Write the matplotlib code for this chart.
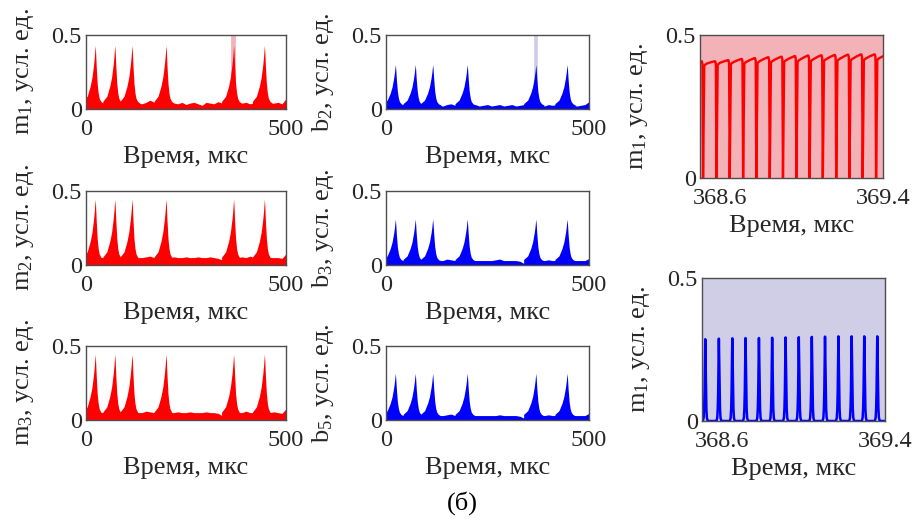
import numpy as np
import matplotlib
matplotlib.use('Agg')
import matplotlib.pyplot as plt

plt.rcParams['font.family'] = 'Liberation Serif'
plt.rcParams['mathtext.fontset'] = 'custom'
plt.rcParams['mathtext.rm'] = 'Liberation Serif'
plt.rcParams['mathtext.default'] = 'regular'

# ---- data ----
# baseline of the fast signal envelope, every 10 us from 0 to 500
base_t = list(range(0, 501, 10))
m1_base = [0.07, 0.06, 0.05, 0.045, 0.04, 0.045, 0.04, 0.04, 0.045, 0.04,
           0.035, 0.04, 0.05, 0.04, 0.035, 0.045, 0.06, 0.045, 0.04, 0.035,
           0.04, 0.045, 0.04, 0.035, 0.045, 0.03, 0.04, 0.045, 0.035, 0.025,
           0.045, 0.04, 0.035, 0.05, 0.04, 0.03, 0.045, 0.04, 0.035, 0.04,
           0.045, 0.035, 0.04, 0.045, 0.04, 0.04, 0.035, 0.04, 0.045, 0.035, 0.07]
m2_base = [0.075, 0.065, 0.055, 0.05, 0.05, 0.05, 0.05, 0.05, 0.05, 0.05,
           0.045, 0.05, 0.05, 0.05, 0.05, 0.055, 0.06, 0.05, 0.05, 0.05,
           0.05, 0.05, 0.055, 0.05, 0.05, 0.055, 0.05, 0.05, 0.055, 0.05,
           0.05, 0.055, 0.05, 0.045, 0.035, 0.05, 0.055, 0.05, 0.05, 0.055,
           0.05, 0.06, 0.05, 0.05, 0.05, 0.05, 0.05, 0.05, 0.05, 0.045, 0.075]
m3_base = [0.075, 0.065, 0.055, 0.05, 0.05, 0.05, 0.05, 0.05, 0.05, 0.05,
           0.05, 0.05, 0.05, 0.05, 0.05, 0.06, 0.055, 0.05, 0.05, 0.05,
           0.05, 0.05, 0.05, 0.055, 0.05, 0.05, 0.055, 0.05, 0.05, 0.05,
           0.055, 0.05, 0.05, 0.045, 0.03, 0.05, 0.05, 0.055, 0.05, 0.05,
           0.06, 0.05, 0.05, 0.05, 0.05, 0.05, 0.05, 0.055, 0.05, 0.045, 0.075]
b2_base = [0.05, 0.04, 0.035, 0.03, 0.025, 0.03, 0.03, 0.03, 0.025, 0.03,
           0.03, 0.03, 0.03, 0.025, 0.02, 0.03, 0.035, 0.025, 0.03, 0.03,
           0.03, 0.025, 0.03, 0.02, 0.025, 0.03, 0.02, 0.025, 0.03, 0.02,
           0.025, 0.03, 0.02, 0.025, 0.03, 0.02, 0.025, 0.03, 0.025, 0.02,
           0.03, 0.025, 0.03, 0.025, 0.03, 0.03, 0.025, 0.02, 0.025, 0.03, 0.05]
b3_base = [0.05, 0.045, 0.04, 0.035, 0.03, 0.03, 0.03, 0.03, 0.03, 0.03,
           0.03, 0.03, 0.03, 0.03, 0.03, 0.04, 0.035, 0.03, 0.03, 0.03,
           0.03, 0.03, 0.03, 0.03, 0.03, 0.03, 0.03, 0.035, 0.04, 0.03,
           0.03, 0.03, 0.03, 0.025, 0.01, 0.03, 0.03, 0.03, 0.03, 0.03,
           0.035, 0.03, 0.03, 0.03, 0.03, 0.03, 0.03, 0.03, 0.03, 0.03, 0.045]
b5_base = [0.05, 0.045, 0.04, 0.035, 0.03, 0.03, 0.03, 0.03, 0.03, 0.03,
           0.03, 0.03, 0.03, 0.03, 0.03, 0.035, 0.04, 0.03, 0.03, 0.03,
           0.03, 0.03, 0.03, 0.03, 0.03, 0.03, 0.03, 0.03, 0.035, 0.03,
           0.03, 0.03, 0.03, 0.025, 0.012, 0.03, 0.03, 0.03, 0.03, 0.03,
           0.035, 0.03, 0.03, 0.03, 0.03, 0.03, 0.03, 0.03, 0.03, 0.03, 0.045]

# bursts: times (us) and heights
peak_t = [23, 72, 115, 200, 369, 446]
m1_peaks = [0.43, 0.43, 0.43, 0.43, 0.43, 0.43]
m2_peaks = [0.445, 0.445, 0.445, 0.445, 0.445, 0.445]
m3_peaks = [0.445, 0.445, 0.445, 0.445, 0.445, 0.445]
b2_peaks = [0.30, 0.30, 0.30, 0.30, 0.30, 0.30]
b3_peaks = [0.31, 0.31, 0.31, 0.31, 0.31, 0.31]
b5_peaks = [0.315, 0.315, 0.315, 0.315, 0.315, 0.315]
# burst profile: time offset (us) and fraction of the peak height
spike_dt = [-30, -20, -12.5, -8, -4, -2, -1, 0, 1, 2.5, 5, 7.5, 10, 14, 20]
spike_frac = [0.12, 0.20, 0.36, 0.50, 0.70, 0.83, 0.92, 1.0, 0.90, 0.68, 0.40, 0.25, 0.17, 0.12, 0.09]

# zoom window 368.5 .. 369.4 us
zoom_win = [368.5, 369.4]
red_drop_t = [368.450, 368.515, 368.581, 368.646, 368.712, 368.777, 368.843, 368.908,
              368.974, 369.039, 369.104, 369.170, 369.235, 369.300, 369.366, 369.431]
red_low = [0.390, 0.392, 0.395, 0.397, 0.399, 0.401, 0.403, 0.405,
           0.406, 0.407, 0.408, 0.409, 0.410, 0.411, 0.412, 0.412]
red_top = [0.408, 0.408, 0.412, 0.416, 0.419, 0.422, 0.424, 0.426,
           0.428, 0.429, 0.430, 0.431, 0.432, 0.432, 0.432, 0.432]
blue_peak_t = [368.516, 368.583, 368.649, 368.714, 368.780, 368.845, 368.911,
               368.976, 369.040, 369.105, 369.171, 369.236, 369.298, 369.362]
blue_peak_v = [0.286, 0.288, 0.289, 0.290, 0.290, 0.291, 0.292,
               0.293, 0.294, 0.295, 0.296, 0.296, 0.296, 0.296]
blue_dt = [-0.012, -0.008, -0.0055, -0.0035, -0.0015, 0, 0.0015, 0.0035, 0.0055, 0.008, 0.012]
blue_frac = [0, 0.04, 0.15, 0.35, 0.75, 1, 0.75, 0.35, 0.15, 0.04, 0]

RED = '#ff0000'
BLUE = '#0000ff'
PINK = '#f3b1b8'
LAV = '#d0cde6'
TXT = '#262626'
EDGE = '#4d4d4d'
FS_TICK = 17.5
FS_LAB = 19

W, H = 919, 524
fig = plt.figure(figsize=(W / 100, H / 100), dpi=100)


def make_ax(x0, y0, x1, y1):
    return fig.add_axes([x0 / W, 1 - y1 / H, (x1 - x0) / W, (y1 - y0) / H])


def style(ax, ylabel, xlim, xticks, xticklabels):
    ax.set_xlim(xlim)
    ax.set_ylim(0, 0.5)
    ax.set_xticks(xticks)
    ax.set_xticklabels(xticklabels)
    ax.set_yticks([0, 0.5])
    ax.set_yticklabels(['0', '0.5'])
    ax.tick_params(direction='in', length=0, colors=EDGE,
                   labelcolor=TXT, labelsize=FS_TICK)
    ax.tick_params(axis='x', pad=7)
    ax.tick_params(axis='y', pad=3)
    for s in ax.spines.values():
        s.set_color(EDGE)
        s.set_linewidth(1.0)
    bb = ax.get_position()
    wpx, hpx = bb.width * W, bb.height * H
    ax.set_xlabel('Время, мкс', fontsize=FS_LAB, color=TXT)
    ax.set_ylabel(ylabel, fontsize=FS_LAB, color=TXT)
    ax.yaxis.set_label_coords(-50 / wpx, 0.5)
    ax.xaxis.set_label_coords(0.5, -37 / hpx)


def burst_panel(ax, base, peaks, color, band=None):
    if band:
        ax.axvspan(zoom_win[0], zoom_win[1], color=band, lw=2.7, zorder=0)
    ax.fill_between(base_t, 0, base, color=color, lw=0)
    for tp, h in zip(peak_t, peaks):
        ax.fill_between(tp + np.array(spike_dt), 0, h * np.array(spike_frac),
                        color=color, lw=0)


rows = [(35, 109), (191, 265), (346, 420)]
left_panels = [(m1_base, m1_peaks, r'm$_1$, усл. ед.', PINK),
               (m2_base, m2_peaks, r'm$_2$, усл. ед.', None),
               (m3_base, m3_peaks, r'm$_3$, усл. ед.', None)]
mid_panels = [(b2_base, b2_peaks, r'b$_2$, усл. ед.', LAV),
              (b3_base, b3_peaks, r'b$_3$, усл. ед.', None),
              (b5_base, b5_peaks, r'b$_5$, усл. ед.', None)]

for (y0, y1), (base, peaks, lab, band) in zip(rows, left_panels):
    ax = make_ax(86, y0, 286, y1)
    burst_panel(ax, base, peaks, RED, band)
    style(ax, lab, (0, 500), [0, 500], ['0', '500'])

for (y0, y1), (base, peaks, lab, band) in zip(rows, mid_panels):
    ax = make_ax(386, y0, 589, y1)
    burst_panel(ax, base, peaks, BLUE, band)
    style(ax, lab, (0, 500), [0, 500], ['0', '500'])

# zoomed red signal
ax = make_ax(700, 35, 883, 178)
ax.set_facecolor(PINK)
xs, ys = [], []
for i in range(len(red_drop_t) - 1):
    td, tn = red_drop_t[i], red_drop_t[i + 1]
    lo, top = red_low[i], red_top[i]
    xs += [td, td + 0.006, td + 0.010, td + 0.018, td + 0.035, tn - 0.010, tn - 0.006, tn - 0.003]
    ys += [0, lo, lo + 0.004, lo + 0.008, (lo + top) / 2 + 0.004, top, top, top - 0.01]
ax.plot(xs, ys, color=RED, lw=1.7)
style(ax, r'm$_1$, усл. ед.', zoom_win, [368.6, 369.4], ['368.6', '369.4'])

# zoomed blue signal
ax = make_ax(702, 278, 885, 421)
ax.set_facecolor(LAV)
xs, ys = [zoom_win[0]], [0]
for tp, v in zip(blue_peak_t, blue_peak_v):
    xs += [tp + d for d in blue_dt]
    ys += [v * f for f in blue_frac]
xs.append(zoom_win[1])
ys.append(0)
ax.plot(xs, ys, color=BLUE, lw=1.8)
style(ax, r'm$_1$, усл. ед.', zoom_win, [368.6, 369.4], ['368.6', '369.4'])

fig.text(462 / W, 1 - 503 / H, '(б)', ha='center', va='center', fontsize=FS_LAB, color='black')

fig.savefig('out.png', dpi=100)
